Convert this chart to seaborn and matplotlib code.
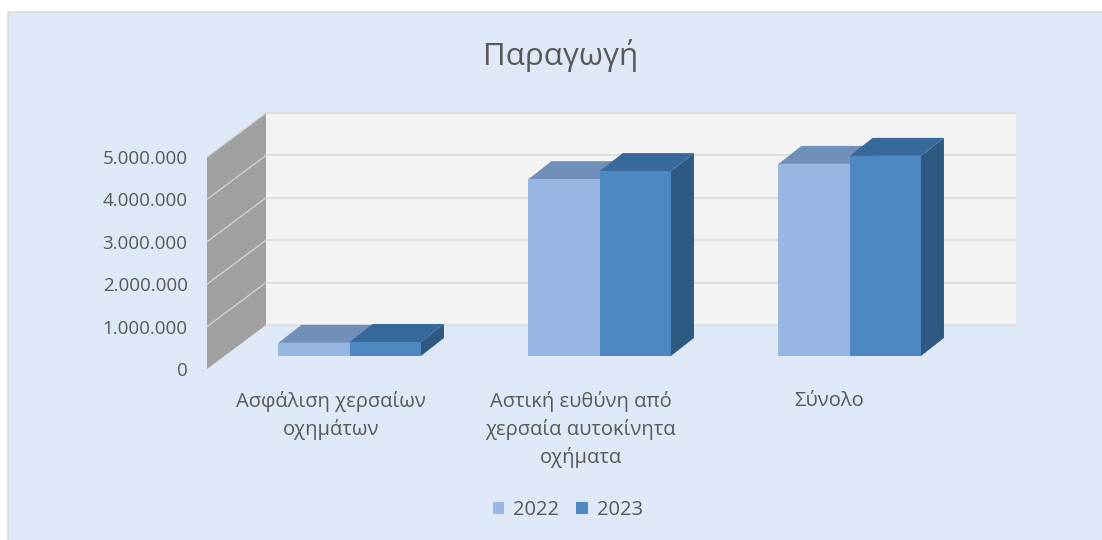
import matplotlib
matplotlib.use('Agg')
import matplotlib.pyplot as plt
import numpy as np
import pandas as pd
import seaborn as sns
from matplotlib.patches import Polygon, Rectangle
from matplotlib.transforms import Affine2D, IdentityTransform

W, H = 1102, 540

categories = ['Ασφάλιση χερσαίων\nοχημάτων',
              'Αστική ευθύνη από\nχερσαία αυτοκίνητα\nοχήματα',
              'Σύνολο']
values_2022 = [310000, 4170000, 4530000]
values_2023 = [330000, 4360000, 4720000]
y_ticks = [0, 1000000, 2000000, 3000000, 4000000, 5000000]

CHART_BG = '#DEE8F6'
TEXT = '#595959'
front_colors = {'2022': '#97B7E2', '2023': '#4E88C1'}
top_colors = {'2022': '#7090BA', '2023': '#37699B'}
side_colors = {'2022': '#5A7AA5', '2023': '#2E5A82'}

# pixel offsets of the pseudo 3D box relative to the plane the bars stand on
BAR_DEPTH = (23, 18)
FRONT = (-17.7, -13)
BACK = (41.3, 31)

sns.set_style('white')
plt.rcParams['font.family'] = ['Open Sans', 'DejaVu Sans']

df = pd.DataFrame({
    'category': categories * 2,
    'year': ['2022'] * 3 + ['2023'] * 3,
    'value': values_2022 + values_2023,
})

fig = plt.figure(figsize=(W / 100, H / 100), dpi=100, facecolor='white')
# chart area runs off the right and bottom edge of the image
fig.add_artist(Rectangle((8 / W, -0.02), 1.02, 1.02 - 12 / H, transform=fig.transFigure,
                         facecolor=CHART_BG, edgecolor='#DDDDDD', linewidth=1.2, zorder=-5))

ax = fig.add_axes([224.7 / W, (H - 356) / H, 750 / W, 212 / H])
ax.patch.set_visible(False)

sns.barplot(data=df, x='category', y='value', hue='year', palette=front_colors,
            width=0.57, gap=0, saturation=1, linewidth=0, ax=ax, zorder=5)
ax.set_xlim(-0.5, 2.5)
ax.set_ylim(0, 5000000)
ax.set_xlabel('')
ax.set_ylabel('')
sns.despine(ax=ax, left=True, bottom=True)


def shifted(offset):
    return ax.transData + Affine2D().translate(*offset)


def add_poly(points, color, zorder):
    ax.add_patch(Polygon(points, closed=True, facecolor=color, edgecolor='none',
                         transform=IdentityTransform(), clip_on=False, zorder=zorder))


# back wall and left wall
xmin, xmax = ax.get_xlim()
ymin, ymax = ax.get_ylim()
add_poly(shifted(BACK).transform([(xmin, ymin), (xmax, ymin), (xmax, ymax), (xmin, ymax)]), '#F3F3F3', 1)
add_poly(np.vstack([shifted(FRONT).transform([(xmin, ymin), (xmin, ymax)]),
                    shifted(BACK).transform([(xmin, ymax), (xmin, ymin)])]), '#A0A0A0', 1)

# gridlines run along the left wall and across the back wall
for tick in y_ticks:
    back_pts = shifted(BACK).transform([(xmin, tick), (xmax, tick)])
    ax.plot(*back_pts.T, color='#DCDCDC', lw=1.2, transform=IdentityTransform(), clip_on=False, zorder=2)
    if tick > 0:
        wall_pts = np.vstack([shifted(FRONT).transform([(xmin, tick)]), back_pts[:1]])
        ax.plot(*wall_pts.T, color='#D5D5D5', lw=0.9, transform=IdentityTransform(), clip_on=False, zorder=2)

# side and top faces come from the bars that seaborn drew
dx, dy = BAR_DEPTH
for year, container in zip(['2022', '2023'], ax.containers):
    z = 3 if year == '2022' else 4
    for bar in container:
        x0, y0 = ax.transData.transform((bar.get_x(), 0))
        x1, y1 = ax.transData.transform((bar.get_x() + bar.get_width(), bar.get_height()))
        add_poly([(x1, y0), (x1 + dx, y0 + dy), (x1 + dx, y1 + dy), (x1, y1)], side_colors[year], z)
        add_poly([(x0, y1), (x1, y1), (x1 + dx, y1 + dy), (x0 + dx, y1 + dy)], top_colors[year], z)
        bar.set_zorder(z + 0.5)

ax.set_yticks(y_ticks)
ax.set_yticklabels([f'{t:,}'.replace(',', '.') for t in y_ticks], color=TEXT, fontsize=13.5)
ax.tick_params(axis='y', length=0, pad=14)
for label in ax.get_yticklabels():
    label.set_transform(label.get_transform() + Affine2D().translate(*FRONT))

ax.set_xticks(range(len(categories)))
ax.set_xticklabels(categories, color=TEXT, fontsize=14.5, linespacing=1.45)
ax.tick_params(axis='x', length=0, pad=25)
for label, shift in zip(ax.get_xticklabels(), [-19, -19, -21]):
    label.set_transform(label.get_transform() + Affine2D().translate(shift, 0))

sns.move_legend(ax, 'center', bbox_to_anchor=(568 / W, 1 - 510 / H), bbox_transform=fig.transFigure,
                ncol=2, frameon=False, title=None, fontsize=14.5, labelcolor=TEXT,
                handlelength=0.55, handleheight=0.55, handletextpad=0.45, columnspacing=0.85)

fig.text(561 / W, 1 - 56 / H, 'Παραγωγή', ha='center', va='center', fontsize=22.5, color=TEXT)

fig.savefig('out.png', dpi=100, facecolor=fig.get_facecolor())
